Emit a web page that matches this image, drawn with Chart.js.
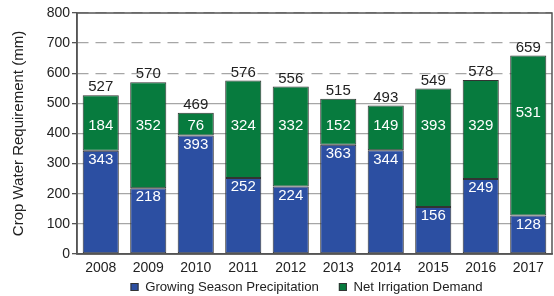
<!DOCTYPE html>
<html>
<head>
<meta charset="utf-8">
<script src="https://cdn.jsdelivr.net/npm/chart.js@4/dist/chart.umd.min.js"></script>
<style>
  html, body { margin: 0; padding: 0; background: #fff; }
  #wrap { width: 554px; height: 296px; }
</style>
</head>
<body>
<div id="wrap"><canvas id="bar-chart" width="554" height="296"></canvas></div>
<script>
// values
var years = ["2008", "2009", "2010", "2011", "2012", "2013", "2014", "2015", "2016", "2017"]
var precipitation = [343, 218, 393, 252, 224, 363, 344, 156, 249, 128]
var irrigation = [184, 352, 76, 324, 332, 152, 149, 393, 329, 531]
var totals = [527, 570, 469, 576, 556, 515, 493, 549, 578, 659]
var yTicks = [0, 100, 200, 300, 400, 500, 600, 700, 800]

var blue = "#2c4fa2"
var green = "#077b3e"
var font = "'Liberation Sans', Arial, sans-serif"

// frame round the plot area
var frame = {
    id: "frame",
    afterDatasetsDraw: function (chart) {
        var a = chart.chartArea, ctx = chart.ctx
        ctx.save()
        ctx.strokeStyle = "#555"
        ctx.lineWidth = 1.5
        ctx.strokeRect(a.left, a.top, a.right - a.left, a.bottom - a.top)
        ctx.restore()
    }
}

// numbers on and above the bars
var barLabels = {
    id: "barLabels",
    afterDatasetsDraw: function (chart) {
        var ctx = chart.ctx, y = chart.scales.y
        var m0 = chart.getDatasetMeta(0), m1 = chart.getDatasetMeta(1)
        ctx.save()
        ctx.font = "15px " + font
        ctx.textAlign = "center"
        ctx.textBaseline = "middle"
        years.forEach(function (yr, i) {
            var x = m0.data[i].x
            // precipitation, just under the top of the blue part
            ctx.fillStyle = "#fff"
            ctx.fillText(precipitation[i], x, y.getPixelForValue(precipitation[i]) + 9)
            // irrigation demand, in the green part
            var at = Math.max(425, totals[i] - 190)
            ctx.fillText(irrigation[i], m1.data[i].x, y.getPixelForValue(at))
            // total above the bar
            ctx.fillStyle = "#222"
            ctx.fillText(totals[i], x, y.getPixelForValue(totals[i]) - 8)
        })
        ctx.restore()
    }
}

// legend under the axis, drawn from the dataset labels
var bottomLegend = {
    id: "bottomLegend",
    afterDraw: function (chart) {
        var ctx = chart.ctx, a = chart.chartArea
        var sets = chart.data.datasets
        var box = 8, gap = 6.6, between = 20, ly = 287
        ctx.save()
        ctx.font = "13.2px " + font
        ctx.textBaseline = "middle"
        var widths = sets.map(function (ds) { return box + gap + ctx.measureText(ds.label).width })
        var total = widths.reduce(function (s, w) { return s + w }, 0) + between * (sets.length - 1)
        var x = (a.left + a.right) / 2 - 8 - total / 2
        sets.forEach(function (ds, i) {
            ctx.fillStyle = ds.backgroundColor
            ctx.fillRect(x, ly - box / 2, box, box)
            ctx.strokeStyle = "#333"
            ctx.lineWidth = 1
            ctx.strokeRect(x + 0.5, ly - box / 2 + 0.5, box - 1, box - 1)
            ctx.fillStyle = "#222"
            ctx.fillText(ds.label, x + box + gap, ly)
            x += widths[i] + between
        })
        ctx.restore()
    }
}

new Chart(document.getElementById("bar-chart"), {
    type: "bar",
    data: {
        labels: years,
        datasets: [{
            label: "Growing Season Precipitation",
            data: precipitation,
            backgroundColor: blue,
            borderColor: "#333",
            borderWidth: 1,
            borderSkipped: false
        }, {
            label: "Net Irrigation Demand",
            data: irrigation,
            backgroundColor: green,
            borderColor: "#333",
            borderWidth: 1,
            borderSkipped: false
        }]
    },
    options: {
        responsive: false,
        animation: false,
        layout: { padding: { top: 13, right: 2, left: 0, bottom: 0 } },
        datasets: { bar: { barPercentage: 0.76, categoryPercentage: 1 } },
        plugins: {
            tooltip: { enabled: false },
            legend: { display: false }
        },
        scales: {
            x: {
                stacked: true,
                grid: { display: false, drawTicks: false },
                border: { color: "#555", width: 1.5 },
                ticks: { color: "#222", font: { family: font, size: 14 }, padding: 6 },
                afterFit: function (s) { s.height = 42 }
            },
            y: {
                stacked: true,
                min: 0,
                max: 800,
                afterBuildTicks: function (s) {
                    s.ticks = yTicks.map(function (v) { return { value: v } })
                },
                grid: {
                    color: "#a6a6a6",
                    lineWidth: 1.3,
                    tickLength: 5,
                    tickColor: "#555"
                },
                border: {
                    color: "#555",
                    width: 1.5,
                    dash: function (c) { return c.tick && c.tick.value >= 600 ? [11, 7] : [] }
                },
                ticks: { color: "#222", font: { family: font, size: 14 }, padding: 2 },
                title: {
                    display: true,
                    text: "Crop Water Requirement (mm)",
                    color: "#222",
                    font: { family: font, size: 15 },
                    padding: { top: 10, bottom: 4 }
                },
                afterFit: function (s) { s.width = 77 }
            }
        }
    },
    plugins: [frame, barLabels, bottomLegend]
})
</script>
</body>
</html>
